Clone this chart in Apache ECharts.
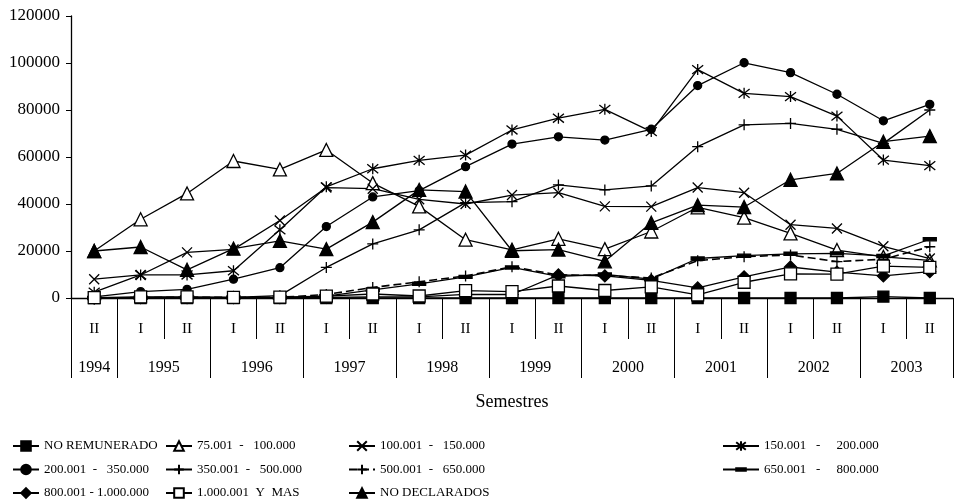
<!DOCTYPE html>
<html>
<head>
<meta charset="utf-8">
<script src="https://cdn.jsdelivr.net/npm/echarts@6/dist/echarts.min.js"></script>
<style>
  html, body { margin: 0; padding: 0; background: #fff; }
  #chart { width: 966px; height: 502px; }
</style>
</head>
<body>
<div id="chart"></div>
<script>
// Semesters on the horizontal axis (year + semester)
const semesterYears = [1994, 1995, 1995, 1996, 1996, 1997, 1997, 1998, 1998, 1999, 1999, 2000, 2000, 2001, 2001, 2002, 2002, 2003, 2003];
const semesterNames = ['II', 'I', 'II', 'I', 'II', 'I', 'II', 'I', 'II', 'I', 'II', 'I', 'II', 'I', 'II', 'I', 'II', 'I', 'II'];

// Value axis ticks
const yTicks = [0, 20000, 40000, 60000, 80000, 100000, 120000];

// Series names (income brackets)
const seriesNames = [
  'NO REMUNERADO',
  '75.001  -   100.000',
  '100.001  -   150.000',
  '150.001   -     200.000',
  '200.001  -   350.000',
  '350.001  -   500.000',
  '500.001  -   650.000',
  '650.001   -     800.000',
  '800.001 - 1.000.000',
  '1.000.001  Y  MAS',
  'NO DECLARADOS'
];

// Values per semester
const noRemunerado = [0, 0, 0, 0, 0, 0, 0, 0, 0, 0, 0, 0, 0, 0, 0, 0, 0, 600, 0];
const r75to100    = [20000, 33500, 44500, 58300, 54700, 63000, 48900, 39000, 24800, 20500, 25200, 20800, 28300, 38600, 34200, 27500, 20400, 17500, 16000];
const r100to150   = [8000, 9800, 19400, 20700, 33000, 47000, 46500, 42000, 40000, 43800, 44800, 39000, 38900, 47000, 44800, 31200, 29600, 22000, 16800];
const r150to200   = [2500, 9800, 9800, 11600, 29000, 47300, 55000, 58600, 60800, 71500, 76500, 80300, 70800, 97200, 87100, 85700, 77400, 58700, 56300];
const r200to350   = [500, 2700, 3700, 8000, 12900, 30400, 43000, 45700, 55900, 65500, 68600, 67200, 71800, 90400, 100100, 95900, 86700, 75400, 82400];
const r350to500   = [0, 300, 300, 300, 1000, 13000, 23000, 29000, 40600, 41000, 48100, 46000, 47700, 64400, 73700, 74300, 71800, 65800, 80000];
const r500to650   = [0, 200, 300, 300, 300, 1500, 4500, 6900, 9400, 13300, 9800, 9600, 8500, 15900, 17600, 18300, 15500, 16500, 21800];
const r650to800   = [0, 100, 200, 200, 200, 800, 3500, 6000, 9000, 13000, 9200, 10000, 8000, 16800, 18000, 18800, 19000, 17900, 25000];
const r800to1000  = [0, 200, 200, 200, 200, 300, 500, 500, 1500, 1500, 9800, 9400, 7500, 4300, 9000, 13200, 11000, 9400, 11200];
const r1000plus   = [200, 500, 500, 300, 400, 800, 1700, 850, 3100, 2700, 5100, 3200, 4700, 1300, 6700, 10300, 10200, 13600, 13000];
const noDeclarados = [20000, 21700, 12000, 21000, 24300, 20800, 32300, 46000, 45300, 20100, 20600, 15600, 32000, 39500, 38700, 50300, 53000, 66500, 68900];

const FONT = '"Liberation Serif", "DejaVu Serif", serif';

const categories = semesterYears.map((y, i) => y + ' ' + semesterNames[i]);

// Year grouping for the second axis row: boundaries and centres in category units
const yearGroups = [];
semesterYears.forEach((y, i) => {
  const last = yearGroups[yearGroups.length - 1];
  if (last && last.year === y) last.count++;
  else yearGroups.push({ year: y, start: i, count: 1 });
});
const yearBoundaries = [0].concat(yearGroups.map(g => g.start + g.count));
const yearCentres = yearGroups.map(g => g.start + g.count / 2);
const yearAt = {};
yearGroups.forEach(g => { yearAt[g.start + g.count / 2] = String(g.year); });

// Marker shapes (the extra move-to points keep a square bounding box)
const X_PATH = 'path://M0,0L10,10M10,0L0,10';
const STAR_PATH = 'path://M1,1L9,9M9,1L1,9M5,0L5,10';
const PLUS_PATH = 'path://M5,0L5,10M0,5L10,5';
const DASH_PATH = 'path://M0,0M0,3.8L10,3.8L10,6.2L0,6.2ZM10,10';

function mk(name, data, symbol, size, fill, extra) {
  return Object.assign({
    name: name,
    type: 'line',
    data: data,
    symbol: symbol,
    symbolSize: size,
    showAllSymbol: true,
    color: '#000',
    lineStyle: { color: '#000', width: 1.3 },
    itemStyle: { color: fill, borderColor: '#000', borderWidth: 1.3 },
    emphasis: { disabled: true },
    animation: false
  }, extra || {});
}

const series = [
  mk(seriesNames[0], noRemunerado, 'rect', 11, '#000'),
  mk(seriesNames[1], r75to100, 'triangle', 13, '#fff'),
  mk(seriesNames[2], r100to150, X_PATH, 10, '#000'),
  mk(seriesNames[3], r150to200, STAR_PATH, 11, '#000'),
  mk(seriesNames[4], r200to350, 'circle', 8, '#000'),
  mk(seriesNames[5], r350to500, PLUS_PATH, 11, '#000'),
  mk(seriesNames[6], r500to650, PLUS_PATH, 11, '#000', { lineStyle: { color: '#000', width: 1.6, type: [8, 4] } }),
  mk(seriesNames[7], r650to800, DASH_PATH, 13, '#000'),
  mk(seriesNames[8], r800to1000, 'diamond', 12, '#000'),
  mk(seriesNames[9], r1000plus, 'rect', 12, '#fff'),
  mk(seriesNames[10], noDeclarados, 'triangle', 13, '#000')
];

function legendCol(left, names, iconWidth) {
  return {
    orient: 'vertical',
    left: left,
    top: 438,
    height: 64,
    padding: 0,
    itemWidth: iconWidth || 26,
    itemHeight: 12,
    itemGap: 7.5,
    selectedMode: false,
    textStyle: { fontFamily: FONT, fontSize: 13, lineHeight: 16, color: '#000' },
    data: names
  };
}

const chart = echarts.init(document.getElementById('chart'), null, { renderer: 'canvas' });
chart.setOption({
  backgroundColor: '#fff',
  animation: false,
  textStyle: { fontFamily: FONT },
  grid: { left: 71, right: 13, top: 16, bottom: 204, containLabel: false },
  legend: [
    legendCol(12, [seriesNames[0], seriesNames[4], seriesNames[8]]),
    legendCol(165, [seriesNames[1], seriesNames[5], seriesNames[9]]),
    legendCol(348, [seriesNames[2], seriesNames[6], seriesNames[10]]),
    legendCol(722, [seriesNames[3], seriesNames[7]], 36)
  ],
  xAxis: [
    {
      type: 'category',
      data: categories,
      boundaryGap: true,
      axisLine: { show: true, onZero: false, lineStyle: { color: '#000', width: 1.3 } },
      axisTick: { show: true, length: 41, interval: 0, lineStyle: { color: '#000', width: 1 } },
      axisLabel: {
        interval: 0,
        margin: 24,
        color: '#000',
        fontFamily: FONT,
        fontSize: 15,
        formatter: v => v.split(' ')[1]
      },
      splitLine: { show: false }
    },
    {
      type: 'value',
      position: 'bottom',
      min: 0,
      max: semesterYears.length,
      axisLine: { show: false },
      axisTick: { show: true, length: 80, customValues: yearBoundaries, lineStyle: { color: '#000', width: 1 } },
      axisLabel: {
        show: true,
        margin: 62,
        color: '#000',
        fontFamily: FONT,
        fontSize: 16,
        customValues: yearCentres,
        formatter: v => yearAt[v] || ''
      },
      splitLine: { show: false },
      name: 'Semestres',
      nameLocation: 'middle',
      nameGap: 95,
      nameTextStyle: { fontFamily: FONT, fontSize: 18, color: '#000' }
    }
  ],
  yAxis: {
    type: 'value',
    min: yTicks[0],
    max: yTicks[yTicks.length - 1],
    interval: yTicks[1] - yTicks[0],
    axisLine: { show: true, lineStyle: { color: '#000', width: 1.3 } },
    axisTick: { show: true, length: 5, lineStyle: { color: '#000' } },
    axisLabel: { color: '#000', fontFamily: FONT, fontSize: 17, margin: 11, formatter: v => String(v) },
    splitLine: { show: false }
  },
  series: series
});
</script>
</body>
</html>
